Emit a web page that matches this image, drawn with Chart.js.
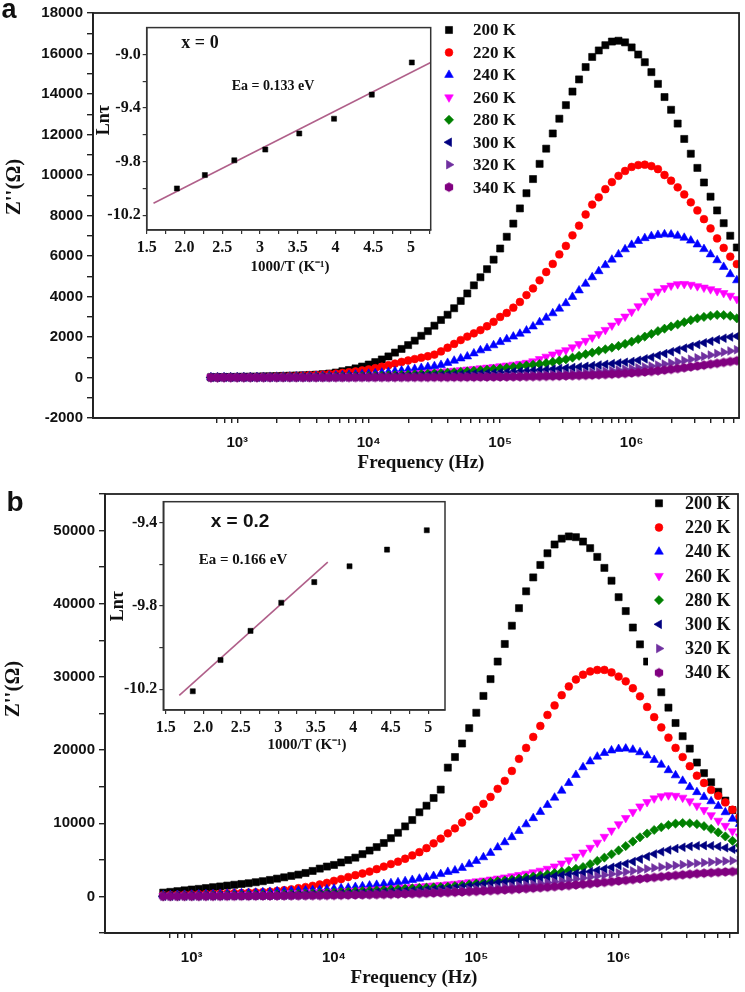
<!DOCTYPE html>
<html>
<head>
<meta charset="utf-8">
<script src="https://cdn.jsdelivr.net/npm/chart.js@4.4.1/dist/chart.umd.min.js"></script>
<style>
  body { margin: 0; background: #fff; }
  #wrap { position: relative; width: 745px; height: 992px; }
  canvas { position: absolute; }
</style>
</head>
<body>
<div id="wrap">
  <canvas id="mainA" width="745" height="478" style="left:0;top:0"></canvas>
  <canvas id="insetA" width="351" height="274" style="left:85px;top:16px"></canvas>
  <canvas id="mainB" width="745" height="514" style="left:0;top:478px"></canvas>
  <canvas id="insetB" width="351" height="275" style="left:100px;top:490px"></canvas>
</div>
<script>
// frequency points (Hz), same sweep for both samples
var freq = [631, 708, 794, 891,
  1000, 1122, 1259, 1413, 1585, 1778, 1995, 2239, 2512, 2818, 3162, 3548, 3981, 4467, 5012, 5623, 6310, 7079, 7943, 8913,
  10000, 11220, 12590, 14130, 15850, 17780, 19950, 22390, 25120, 28180, 31620, 35480, 39810, 44670, 50120, 56230, 63100, 70790, 79430, 89130,
  100000, 112200, 125900, 141300, 158500, 177800, 199500, 223900, 251200, 281800, 316200, 354800, 398100, 446700, 501200, 562300, 631000, 707900, 794300, 891300,
  1000000, 1122000, 1259000, 1413000, 1585000, 1778000, 1995000, 2239000, 2512000, 2818000, 3162000, 3548000, 3981000, 4467000, 5012000, 5623000, 6310000, 7079000];

var tempLabels = ['200 K', '220 K', '240 K', '260 K', '280 K', '300 K', '320 K', '340 K'];

// (a) x = 0 : Z'' in ohm
var a200 = [10, 15, 20, 25,
  30, 35, 40, 45, 55, 60, 70, 80, 90, 100, 110, 125, 140, 165, 195, 245, 310, 370, 450, 540,
  640, 760, 890, 1040, 1230, 1410, 1600, 1820, 2060, 2290, 2560, 2840, 3100, 3420, 3780, 4150, 4550, 4950, 5350, 5820,
  6370, 6950, 7600, 8350, 9100, 9800, 10550, 11300, 12050, 12780, 13450, 14120, 14720, 15330, 15830, 16150, 16410, 16590, 16630, 16550,
  16300, 15950, 15570, 15080, 14500, 13850, 13220, 12540, 11780, 11050, 10350, 9630, 8930, 8250, 7620, 7000, 6420, 5850];
var a220 = [10, 12, 15, 18,
  20, 25, 30, 35, 40, 45, 55, 60, 70, 80, 95, 110, 125, 145, 170, 195, 225, 260, 300, 350,
  400, 460, 530, 610, 690, 770, 840, 910, 980, 1050, 1130, 1290, 1470, 1660, 1850, 2020, 2180, 2340, 2530, 2750,
  2990, 3190, 3450, 3730, 4070, 4400, 4800, 5210, 5610, 6080, 6500, 7020, 7500, 8050, 8540, 8900, 9300, 9650, 9960, 10200,
  10400, 10490, 10510, 10440, 10290, 10000, 9720, 9390, 9040, 8650, 8250, 7820, 7360, 6870, 6400, 5970, 5600, 5250];
var a240 = [10, 10, 12, 14,
  16, 18, 20, 23, 26, 30, 34, 38, 43, 48, 55, 62, 70, 80, 90, 100, 115, 130, 145, 165,
  185, 210, 240, 270, 305, 340, 380, 420, 470, 520, 560, 620, 720, 830, 940, 1040, 1190, 1340, 1450, 1590,
  1750, 1890, 2020, 2160, 2320, 2520, 2730, 2950, 3170, 3400, 3670, 3980, 4300, 4630, 4950, 5250, 5550, 5820, 6080, 6330,
  6550, 6740, 6880, 6980, 7040, 7070, 7060, 7000, 6900, 6760, 6570, 6340, 6080, 5790, 5460, 5100, 4800, 4500];
var a260 = [5, 6, 7, 8,
  9, 10, 12, 14, 16, 18, 20, 23, 26, 29, 33, 37, 42, 47, 53, 57, 62, 69, 77, 86,
  95, 105, 117, 130, 145, 160, 178, 197, 218, 240, 262, 285, 310, 336, 364, 393, 424, 456, 488, 520,
  555, 592, 632, 675, 725, 800, 910, 1030, 1140, 1240, 1350, 1490, 1650, 1810, 1980, 2150, 2350, 2570, 2790, 3010,
  3250, 3520, 3790, 4040, 4250, 4420, 4540, 4610, 4620, 4580, 4510, 4440, 4360, 4270, 4170, 4040, 3880, 3720];
var a280 = [4, 5, 6, 7,
  8, 9, 10, 11, 12, 14, 16, 18, 20, 22, 25, 28, 31, 35, 39, 44, 49, 55, 61, 68,
  76, 85, 94, 104, 115, 127, 140, 154, 169, 185, 202, 220, 240, 260, 282, 305, 330, 356, 384, 414,
  446, 480, 516, 554, 594, 630, 665, 710, 770, 830, 900, 980, 1070, 1150, 1230, 1315, 1395, 1475, 1560, 1660,
  1770, 1890, 2020, 2150, 2290, 2410, 2520, 2620, 2730, 2830, 2920, 2990, 3050, 3090, 3080, 3040, 2920, 2800];
var a300 = [3, 3, 4, 4,
  5, 5, 6, 7, 8, 9, 10, 11, 12, 14, 15, 17, 19, 21, 23, 26, 29, 32, 35, 39,
  43, 48, 53, 58, 64, 71, 78, 86, 94, 101, 108, 118, 128, 139, 151, 164, 178, 193, 208, 224,
  240, 258, 277, 297, 318, 340, 363, 387, 412, 438, 465, 493, 522, 552, 583, 615, 648, 682, 717, 753,
  790, 850, 920, 1000, 1090, 1180, 1270, 1360, 1450, 1540, 1630, 1710, 1790, 1870, 1940, 2000, 2040, 2070];
var a320 = [2, 2, 2, 2,
  2, 3, 3, 3, 3, 4, 4, 4, 5, 5, 6, 6, 7, 8, 8, 9, 10, 11, 12, 13,
  14, 15, 16, 18, 19, 21, 23, 25, 28, 30, 33, 36, 39, 43, 47, 51, 56, 61, 66, 72,
  79, 86, 93, 102, 111, 121, 132, 144, 157, 171, 187, 204, 222, 242, 264, 288, 314, 342, 372, 405,
  440, 478, 520, 565, 615, 665, 720, 780, 840, 900, 970, 1040, 1110, 1180, 1250, 1310, 1370, 1420];
var a340 = [1, 1, 1, 1,
  1, 1, 1, 1, 1, 1, 2, 2, 2, 2, 2, 2, 2, 2, 3, 3, 3, 3, 3, 4,
  4, 4, 5, 5, 6, 6, 7, 7, 8, 9, 10, 11, 12, 13, 14, 16, 18, 20, 22, 24,
  27, 30, 33, 37, 41, 46, 51, 57, 63, 70, 78, 87, 97, 108, 120, 133, 148, 164, 182, 202,
  224, 248, 274, 302, 333, 366, 402, 440, 480, 522, 565, 610, 655, 700, 745, 790, 830, 870];

// (b) x = 0.2
var b200 = [520, 620, 720, 830,
  940, 1030, 1140, 1260, 1360, 1480, 1590, 1700, 1800, 1940, 2080, 2250, 2430, 2610, 2800, 2980, 3200, 3480, 3800, 4080,
  4300, 4640, 4970, 5300, 5780, 6270, 6740, 7300, 7960, 8700, 9570, 10440, 11500, 12400, 13450, 14600, 17600, 19050, 20900, 23000,
  25100, 27400, 29700, 32100, 34500, 37000, 39400, 41700, 43600, 45300, 46900, 48100, 48900, 49200, 49100, 48500, 47600, 46400, 44900, 43150,
  40900, 39000, 36750, 34450, 32100, 29950, 27900, 25800, 23700, 21900, 20200, 18300, 16850, 15600, 14300, 13100, 11800, 10600];
var b220 = [180, 200, 225, 250,
  275, 300, 330, 360, 390, 420, 450, 480, 520, 560, 600, 650, 740, 850, 970, 1120, 1280, 1450, 1630, 1850,
  2130, 2370, 2650, 2900, 3130, 3400, 3730, 4080, 4420, 4750, 5150, 5600, 6050, 6600, 7250, 7900, 8620, 9300, 10100, 10950,
  11830, 12650, 13600, 14700, 15800, 17150, 18800, 20300, 21800, 23300, 24800, 26100, 27500, 28700, 29650, 30300, 30750, 30950, 30960, 30620,
  30050, 29400, 28450, 27350, 25900, 24500, 23100, 21700, 20300, 19050, 17800, 16500, 15500, 14550, 13750, 12850, 11850, 10900];
var b240 = [150, 170, 190, 210,
  235, 260, 285, 310, 340, 370, 400, 430, 470, 510, 560, 620, 690, 730, 770, 800, 830, 870, 920, 980,
  1050, 1120, 1190, 1280, 1380, 1480, 1580, 1690, 1810, 1930, 2080, 2250, 2420, 2600, 2790, 3050, 3350, 3550, 3900, 4400,
  4850, 5350, 5950, 6700, 7400, 8100, 8950, 9850, 10700, 11550, 12500, 13500, 14450, 15500, 16600, 17650, 18450, 19100, 19600, 19950,
  20150, 20200, 20050, 19700, 19250, 18650, 18000, 17250, 16550, 15800, 14950, 14250, 13600, 13000, 12350, 11500, 10600, 9900];
var b260 = [60, 70, 80, 90,
  100, 115, 130, 145, 160, 180, 200, 220, 245, 270, 300, 330, 360, 395, 430, 470, 510, 545, 580, 600,
  620, 670, 720, 770, 830, 890, 950, 1010, 1080, 1150, 1220, 1290, 1360, 1430, 1500, 1570, 1650, 1740, 1840, 1950,
  2060, 2180, 2310, 2450, 2600, 2760, 2930, 3110, 3300, 3520, 3780, 4100, 4500, 4950, 5450, 6000, 6650, 7350, 8150, 9000,
  9870, 10720, 11550, 12300, 12900, 13400, 13700, 13830, 13750, 13500, 13000, 12400, 11800, 11100, 10350, 9650, 8900, 8200];
var b280 = [40, 45, 50, 60,
  70, 80, 90, 100, 115, 130, 145, 160, 180, 200, 220, 245, 270, 300, 330, 360, 395, 430, 470, 510,
  550, 595, 640, 690, 740, 790, 840, 890, 950, 1010, 1060, 1110, 1160, 1200, 1240, 1280, 1320, 1410, 1520, 1640,
  1760, 1870, 1980, 2090, 2190, 2300, 2430, 2570, 2710, 2860, 3020, 3200, 3380, 3560, 3780, 4020, 4420, 4850, 5300, 5760,
  6280, 6880, 7500, 8080, 8600, 9080, 9450, 9760, 9950, 10030, 10000, 9880, 9600, 9220, 8750, 8200, 7600, 7000];
var b300 = [30, 35, 40, 45,
  50, 55, 62, 70, 78, 86, 95, 105, 116, 128, 140, 155, 170, 187, 205, 225, 246, 268, 292, 318,
  345, 375, 406, 440, 475, 512, 552, 594, 638, 685, 735, 790, 850, 910, 970, 1030, 1090, 1190, 1300, 1420,
  1540, 1650, 1760, 1870, 1980, 2080, 2180, 2290, 2390, 2500, 2620, 2750, 2880, 3000, 3120, 3240, 3380, 3560, 3760, 3980,
  4220, 4470, 4760, 5100, 5450, 5800, 6100, 6350, 6550, 6720, 6840, 6920, 6950, 6920, 6820, 6650, 6450, 6250];
var b320 = [20, 23, 26, 30,
  34, 38, 43, 48, 54, 60, 67, 74, 82, 90, 99, 109, 120, 131, 143, 156, 170, 184, 199, 215,
  232, 250, 268, 288, 309, 331, 354, 378, 404, 431, 460, 500, 545, 595, 645, 700, 755, 815, 875, 940,
  1005, 1075, 1145, 1220, 1300, 1385, 1475, 1570, 1670, 1775, 1885, 2000, 2120, 2245, 2375, 2510, 2650, 2790, 2930, 3070,
  3210, 3350, 3490, 3630, 3770, 3900, 4020, 4130, 4240, 4340, 4440, 4530, 4610, 4690, 4760, 4820, 4880, 4930];
var b340 = [10, 12, 14, 16,
  18, 20, 23, 26, 29, 33, 37, 41, 46, 51, 57, 63, 70, 77, 85, 94, 103, 113, 124, 136,
  149, 163, 178, 194, 211, 229, 249, 270, 292, 316, 341, 368, 397, 427, 459, 493, 529, 567, 607, 649,
  693, 739, 787, 837, 890, 945, 1003, 1063, 1126, 1192, 1261, 1333, 1408, 1486, 1567, 1651, 1738, 1828, 1920, 2014,
  2110, 2207, 2305, 2403, 2500, 2596, 2690, 2782, 2870, 2955, 3035, 3110, 3180, 3243, 3300, 3350, 3393, 3430];

// insets: Ln(tau) vs 1000/T, and the linear fit end points
var insetAx = [1.90, 2.27, 2.66, 3.07, 3.52, 3.98, 4.48, 5.01];
var insetAy = [-10.00, -9.90, -9.79, -9.71, -9.59, -9.48, -9.30, -9.06];
var fitAx = [1.59, 5.26];
var fitAy = [-10.11, -9.06];
var insetBx = [1.86, 2.23, 2.63, 3.04, 3.48, 3.95, 4.45, 4.98];
var insetBy = [-10.21, -10.06, -9.92, -9.785, -9.686, -9.61, -9.53, -9.437];
var fitBx = [1.68, 3.66];
var fitBy = [-10.23, -9.59];

var insetTickVals = [1.5, 2, 2.5, 3, 3.5, 4, 4.5, 5];
var insetTickText = ['1.5', '2.0', '2.5', '3', '3.5', '4', '4.5', '5'];

Chart.defaults.font.family = '"Liberation Sans", Arial, sans-serif';

function hexagonImage(color, r) {
  var c = document.createElement('canvas');
  var s = Math.ceil(r * 2 + 2);
  c.width = s; c.height = s;
  var g = c.getContext('2d');
  g.fillStyle = color;
  g.beginPath();
  for (var k = 0; k < 6; k++) {
    var ang = Math.PI / 3 * k - Math.PI / 2;
    var px = s / 2 + r * Math.cos(ang), py = s / 2 + r * Math.sin(ang);
    if (k === 0) g.moveTo(px, py); else g.lineTo(px, py);
  }
  g.closePath();
  g.fill();
  return c;
}

var colors = ['#000000', '#ff0000', '#0000ff', '#ff00ff', '#008000', '#000080', '#7030a0', '#800080'];
var pointStyles = ['rect', 'circle', 'triangle', 'triangle', 'rectRot', 'triangle', 'triangle', hexagonImage('#800080', 4.8)];
var rotations = [0, 0, 0, 180, 0, -90, 90, 0];
var radii = [5, 3.9, 5, 5, 4.6, 5, 5, 4.8];
var sup = { 3: '\u00b3', 4: '\u2074', 5: '\u2075', 6: '\u2076' };

function decadeLabel(v) {
  var e = Math.round(Math.log10(v));
  if (Math.abs(v - Math.pow(10, e)) < 1e-6 * v) return '10' + sup[e];
  return '';
}

function logTicks(max) {
  var out = [];
  for (var d = 2; d <= 6; d++) {
    for (var m = 1; m <= 9; m++) {
      var v = m * Math.pow(10, d);
      if (v >= 700 && v <= max) out.push(v);
    }
  }
  return out;
}

function vTitle(ctx, text, x, y, font) {
  ctx.save();
  ctx.translate(x, y);
  ctx.rotate(-Math.PI / 2);
  ctx.font = font;
  ctx.textAlign = 'center';
  ctx.textBaseline = 'middle';
  ctx.fillText(text, 0, 0);
  ctx.restore();
}

function mainChart(id, series, opt) {
  var datasets = series.map(function (vals, i) {
    return {
      label: tempLabels[i],
      data: freq.map(function (f, j) { return { x: f, y: vals[j] }; }),
      showLine: false,
      pointStyle: pointStyles[i],
      pointRotation: rotations[i],
      pointRadius: radii[i],
      backgroundColor: colors[i],
      borderColor: colors[i],
      pointBorderWidth: 0.6,
      order: series.length - 1 - i,
      clip: { left: 8, top: 8, right: 0, bottom: 8 }
    };
  });

  var yTicks = [];
  for (var v = opt.yMin; v <= opt.yMax; v += opt.yStep) yTicks.push(v);

  var deco = {
    id: 'deco_' + id,
    afterDatasetsDraw: function (chart) {
      var ctx = chart.ctx;
      ctx.save();
      ctx.fillStyle = '#fff';
      ctx.fillRect(opt.legendBox[0], opt.legendBox[1], opt.legendBox[2], opt.legendBox[3]);
      chart.data.datasets.forEach(function (ds, i) {
        var y = opt.legendY + i * opt.legendStep;
        ctx.fillStyle = ds.backgroundColor;
        ctx.strokeStyle = ds.borderColor;
        ctx.lineWidth = 0.6;
        Chart.helpers.drawPoint(ctx, { pointStyle: ds.pointStyle, rotation: ds.pointRotation, radius: ds.pointRadius, borderWidth: 0.6 }, opt.legendX, y);
        ctx.fillStyle = '#111';
        ctx.font = 'bold ' + opt.legendFont + 'px "Liberation Serif"';
        ctx.textAlign = 'left';
        ctx.textBaseline = 'middle';
        ctx.fillText(ds.label, opt.legendTextX, y + 1);
      });
      ctx.restore();
    },
    afterDraw: function (chart) {
      var ctx = chart.ctx, ca = chart.chartArea;
      ctx.save();
      ctx.strokeStyle = '#222';
      ctx.lineWidth = 1.8;
      ctx.strokeRect(ca.left, ca.top, ca.right - ca.left, ca.bottom - ca.top);
      ctx.fillStyle = '#111';
      ctx.font = 'bold ' + opt.letterSize + 'px "Liberation Sans"';
      ctx.textAlign = 'center';
      ctx.textBaseline = 'middle';
      ctx.fillText(opt.letter, opt.letterPos[0], opt.letterPos[1]);
      ctx.font = 'bold 19px "Liberation Serif"';
      ctx.fillText('Frequency (Hz)', opt.xTitlePos[0], opt.xTitlePos[1]);
      vTitle(ctx, "Z''(\u03a9)", opt.yTitlePos[0], opt.yTitlePos[1], 'bold 21px "Liberation Serif"');
      ctx.restore();
    }
  };

  return new Chart(document.getElementById(id), {
    type: 'scatter',
    data: { datasets: datasets },
    plugins: [deco],
    options: {
      responsive: false,
      animation: false,
      layout: { padding: opt.padding },
      plugins: { legend: { display: false }, tooltip: { enabled: false } },
      scales: {
        x: {
          type: 'logarithmic',
          min: opt.xMin,
          max: opt.xMax,
          afterBuildTicks: function (s) { s.ticks = logTicks(opt.xMax).map(function (t) { return { value: t }; }); },
          afterFit: function (s) { s.height = opt.xAxisH; },
          ticks: {
            autoSkip: false, maxRotation: 0, padding: 11, color: '#111',
            font: { size: 15, weight: 'bold' },
            callback: function (val) { return decadeLabel(val); }
          },
          grid: { drawOnChartArea: false, tickLength: 5, color: '#222', lineWidth: 1.4 },
          border: { color: '#222', width: 1.8 }
        },
        y: {
          min: opt.yMin,
          max: opt.yMax,
          afterBuildTicks: function (s) { s.ticks = yTicks.map(function (t) { return { value: t }; }); },
          afterFit: function (s) { s.width = opt.yAxisW; },
          ticks: {
            autoSkip: false, padding: 4, color: '#111',
            font: { size: 15, weight: 'bold' },
            callback: function (val) { return val % opt.yLabelStep === 0 ? String(val) : ''; }
          },
          grid: { drawOnChartArea: false, tickLength: 6, color: '#222', lineWidth: 1.4 },
          border: { color: '#222', width: 1.8 }
        }
      }
    }
  });
}

function insetChart(id, opt) {
  var xTicks = [];
  for (var v = 1.5; v <= opt.xMax + 1e-9; v += 0.25) xTicks.push(v);

  var deco = {
    id: 'deco_' + id,
    afterDraw: function (chart) {
      var ctx = chart.ctx, ca = chart.chartArea;
      ctx.save();
      ctx.strokeStyle = '#333';
      ctx.lineWidth = 1.5;
      ctx.strokeRect(ca.left, ca.top, ca.right - ca.left, ca.bottom - ca.top);
      ctx.fillStyle = '#111';
      ctx.textAlign = 'center';
      ctx.textBaseline = 'middle';
      ctx.font = opt.nameFont;
      ctx.fillText(opt.name, opt.namePos[0], opt.namePos[1]);
      ctx.font = 'bold ' + opt.eaSize + 'px "Liberation Serif"';
      ctx.fillText(opt.ea, opt.eaPos[0], opt.eaPos[1]);
      ctx.font = 'bold 15px "Liberation Serif"';
      ctx.fillText('1000/T (K\u207b\u00b9)', opt.xTitlePos[0], opt.xTitlePos[1]);
      vTitle(ctx, 'Ln\u03c4', opt.yTitlePos[0], opt.yTitlePos[1], 'bold 18px "Liberation Serif"');
      ctx.restore();
    }
  };

  return new Chart(document.getElementById(id), {
    type: 'scatter',
    data: {
      datasets: [
        {
          data: opt.px.map(function (x, i) { return { x: x, y: opt.py[i] }; }),
          showLine: false, pointStyle: 'rect', pointRadius: 3.6,
          backgroundColor: '#000', borderColor: '#000', pointBorderWidth: 0.5
        },
        {
          data: opt.fx.map(function (x, i) { return { x: x, y: opt.fy[i] }; }),
          showLine: true, pointRadius: 0, borderColor: '#b0608a', borderWidth: 1.6
        }
      ]
    },
    plugins: [deco],
    options: {
      responsive: false,
      animation: false,
      layout: { padding: opt.padding },
      plugins: { legend: { display: false }, tooltip: { enabled: false } },
      scales: {
        x: {
          min: opt.xMin, max: opt.xMax,
          afterBuildTicks: function (s) { s.ticks = xTicks.map(function (t) { return { value: t }; }); },
          afterFit: function (s) { s.height = opt.xAxisH; },
          ticks: {
            autoSkip: false, maxRotation: 0, padding: 4, color: '#111',
            font: { family: '"Liberation Serif"', size: 16, weight: 'bold' },
            callback: function (val) {
              var k = insetTickVals.indexOf(Math.round(val * 100) / 100);
              return k >= 0 ? insetTickText[k] : '';
            }
          },
          grid: { drawOnChartArea: false, tickLength: 4, color: '#333', lineWidth: 1.2 },
          border: { color: '#333', width: 1.5 }
        },
        y: {
          min: opt.yMin, max: opt.yMax,
          afterBuildTicks: function (s) { s.ticks = opt.yTicks.map(function (t) { return { value: t }; }); },
          afterFit: function (s) { s.width = opt.yAxisW; },
          ticks: {
            autoSkip: false, padding: 2, color: '#111',
            font: { family: '"Liberation Serif"', size: 16, weight: 'bold' },
            callback: function (val, idx) { return opt.yLabels[idx]; }
          },
          grid: { drawOnChartArea: false, tickLength: 4, color: '#333', lineWidth: 1.2 },
          border: { color: '#333', width: 1.5 }
        }
      }
    }
  });
}

mainChart('mainA', [a200, a220, a240, a260, a280, a300, a320, a340], {
  xMin: 80, xMax: 6.56e6, yMin: -2000, yMax: 18000, yStep: 1000, yLabelStep: 2000,
  yAxisW: 93, xAxisH: 60, padding: { top: 10, right: 4, left: 0, bottom: 0 },
  legendBox: [0, 0, 0, 0], legendX: 449, legendTextX: 473, legendY: 30, legendStep: 22.45, legendFont: 17,
  letter: 'a', letterSize: 27, letterPos: [9, 11],
  xTitlePos: [421, 463], yTitlePos: [15, 187]
});

mainChart('mainB', [b200, b220, b240, b260, b280, b300, b320, b340], {
  xMin: 246, xMax: 6.9e6, yMin: -5000, yMax: 55000, yStep: 5000, yLabelStep: 10000,
  yAxisW: 105, xAxisH: 59, padding: { top: 16, right: 7, left: 0, bottom: 0 },
  legendBox: [648, 16, 90, 192], legendX: 659, legendTextX: 685, legendY: 25.3, legendStep: 24.2, legendFont: 18,
  letter: 'b', letterSize: 28, letterPos: [15, 25],
  xTitlePos: [414, 500], yTitlePos: [14, 211]
});

insetChart('insetA', {
  px: insetAx, py: insetAy, fx: fitAx, fy: fitAy,
  xMin: 1.5, xMax: 5.26, yMin: -10.31, yMax: -8.8,
  yTicks: [-10.2, -10.0, -9.8, -9.6, -9.4, -9.2, -9.0],
  yLabels: ['-10.2', '', '-9.8', '', '-9.4', '', '-9.0'],
  yAxisW: 61.7, xAxisH: 60, padding: { top: 4, right: 5.3, left: 0, bottom: 0 },
  name: 'x = 0', nameFont: 'bold 18px "Liberation Serif"', namePos: [115, 27],
  ea: 'Ea = 0.133 eV', eaSize: 14, eaPos: [188, 70],
  xTitlePos: [205, 251], yTitlePos: [19, 104]
});

insetChart('insetB', {
  px: insetBx, py: insetBy, fx: fitBx, fy: fitBy,
  xMin: 1.467, xMax: 5.223, yMin: -10.3, yMax: -9.3,
  yTicks: [-10.2, -10.0, -9.8, -9.6, -9.4],
  yLabels: ['-10.2', '', '-9.8', '', '-9.4'],
  yAxisW: 63.3, xAxisH: 55, padding: { top: 11.7, right: 6, left: 0, bottom: 0 },
  name: 'x = 0.2', nameFont: 'bold 19px "Liberation Sans"', namePos: [140, 32],
  ea: 'Ea = 0.166 eV', eaSize: 15, eaPos: [143, 70],
  xTitlePos: [207, 255], yTitlePos: [18, 116]
});
</script>
</body>
</html>
